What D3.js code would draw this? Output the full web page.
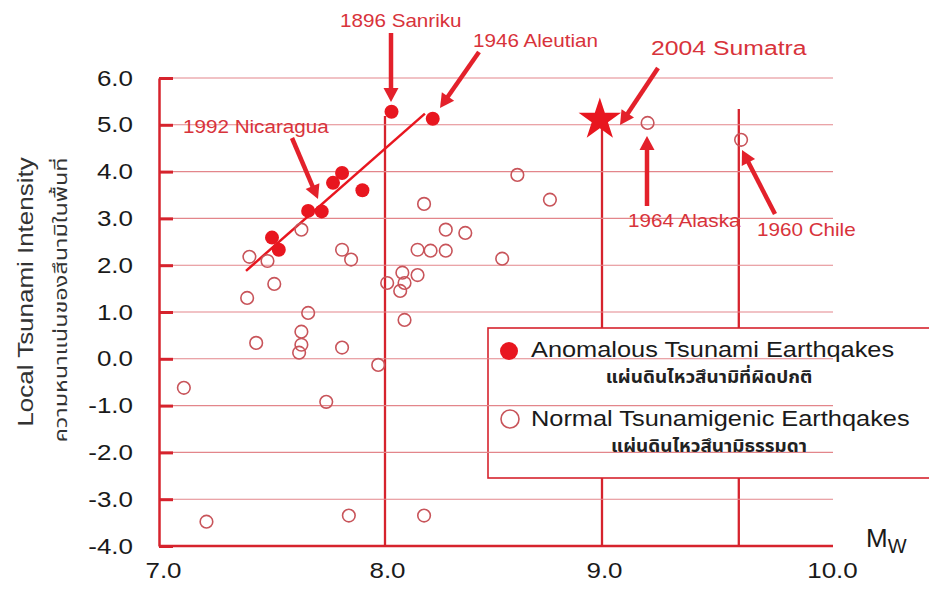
<!DOCTYPE html>
<html>
<head>
<meta charset="utf-8">
<script src="https://cdn.jsdelivr.net/npm/d3@7"></script>
<style>
  html, body { margin: 0; padding: 0; background: #fff; }
  svg { display: block; }
  text { font-family: "Liberation Sans", Arial, Helvetica, sans-serif; }
  .thai { font-family: "Noto Sans Thai", "Noto Sans Thai UI", "Noto Sans", "DejaVu Sans", sans-serif; }
</style>
</head>
<body>
<svg id="chart" width="929" height="590"></svg>
<script>
// ---------------- data ----------------
const xTickValues = [7.0, 8.0, 9.0, 10.0];
const yTickValues = [6, 5, 4, 3, 2, 1, 0, -1, -2, -3, -4];

// Anomalous tsunami earthquakes (filled)
const anomalousMw = [7.50, 7.53, 7.66, 7.72, 7.77, 7.81, 7.90, 8.03, 8.22];
const anomalousIt = [2.59, 2.33, 3.16, 3.15, 3.76, 3.97, 3.60, 5.28, 5.13];

// Normal tsunamigenic earthquakes (open)
const normalMw = [7.11, 7.21, 7.40, 7.48, 7.51, 7.39, 7.43, 7.63, 7.66, 7.63, 7.63, 7.62,
                  7.81, 7.85, 7.81, 7.74, 7.84, 7.97, 8.01, 8.07, 8.09, 8.08, 8.15, 8.09,
                  8.15, 8.21, 8.28, 8.18, 8.28, 8.37, 8.54, 8.61, 8.76, 8.18, 9.20, 9.61];
const normalIt = [-0.62, -3.48, 2.18, 2.09, 1.60, 1.30, 0.34, 2.76, 0.98, 0.58, 0.30, 0.13,
                  2.33, 2.12, 0.24, -0.92, -3.35, -0.13, 1.62, 1.45, 1.62, 1.84, 1.79, 0.83,
                  2.33, 2.31, 2.31, 3.31, 2.76, 2.69, 2.14, 3.93, 3.40, -3.35, 5.04, 4.68];

// 2004 Sumatra (star)
const sumatraMw = 8.99, sumatraIt = 5.13;

// Trend line through anomalous events
const trendMw = [7.385, 8.184];
const trendIt = [1.88, 5.24];

// Vertical reference lines (Mw, top intensity)
const refMw = [8.0, 9.0, 9.6];
const refTop = [5.19, 5.13, 5.34];

// Annotation labels
const annLabels = ["1896 Sanriku", "1946 Aleutian", "2004 Sumatra", "1964 Alaska", "1960 Chile", "1992 Nicaragua"];

// Legend
const legendLabels = ["Anomalous Tsunami Earthqakes", "Normal Tsunamigenic Earthqakes"];
const legendThai = ["แผ่นดินไหวสึนามิที่ผิดปกติ", "แผ่นดินไหวสึนามิธรรมดา"];

const yTitle = "Local Tsunami Intensity";
const yTitleThai = "ความหนาแน่นของสึนามิในพื้นที่";

// ---------------- layout / style ----------------
const SX = 1.18; // horizontal glyph stretch seen in the reference
const RED_AXIS = "#d6232d";
const RED_GRID = "#e3868b";
const RED_FILL = "#e8161f";
const RED_OPEN = "#c8545a";
const RED_TEXT = "#d8333b";
const RED_ARROW = "#e3212b";
const fmt = d => d.toFixed(1);

// annotation layout: text start/baseline, arrow from -> tip (px)
const annLayout = [
  {tx: 340, ty: 27, fs: 17.5, x1: 391, y1: 33, x2: 391, y2: 102},
  {tx: 473, ty: 47, fs: 17.5, x1: 479, y1: 52, x2: 440, y2: 108},
  {tx: 651, ty: 55, fs: 21,   x1: 658, y1: 68, x2: 620, y2: 125},
  {tx: 628, ty: 227, fs: 17.5, x1: 647, y1: 206, x2: 647, y2: 136},
  {tx: 757, ty: 236, fs: 17.5, x1: 775, y1: 214, x2: 742, y2: 150},
  {tx: 183, ty: 133, fs: 17.5, x1: 292, y1: 138, x2: 318, y2: 199}
];

const svg = d3.select("#chart");

const x = d3.scaleLinear().domain([7, 8, 9, 10]).range([159, 385, 602, 830]);
const y = d3.scaleLinear().domain([-4, 6]).range([546, 78]);

const gridRight = 833;

// vertical reference lines
svg.append("g").selectAll("line").data(refMw).join("line")
  .attr("x1", d => x(d)).attr("x2", d => x(d))
  .attr("y1", (d, i) => y(refTop[i])).attr("y2", y(-4))
  .attr("stroke", RED_AXIS).attr("stroke-width", 2.3);

// legend box (white, hides the vertical lines)
svg.append("rect")
  .attr("x", 488).attr("y", 328).attr("width", 460).attr("height", 150)
  .attr("fill", "#fff").attr("stroke", RED_AXIS).attr("stroke-width", 1.6);

// horizontal grid
svg.append("g").selectAll("line").data(yTickValues.filter(v => v > -4)).join("line")
  .attr("x1", x(7)).attr("x2", gridRight)
  .attr("y1", d => y(d)).attr("y2", d => y(d))
  .attr("stroke", RED_GRID).attr("stroke-width", 1.1);

// left axis
const yAxis = svg.append("g").attr("transform", `translate(${x(7)},0)`)
  .call(d3.axisLeft(y).tickValues(yTickValues).tickFormat(fmt)
    .tickSizeInner(-14).tickSizeOuter(0).tickPadding(26));
yAxis.select(".domain").attr("stroke", RED_AXIS).attr("stroke-width", 2.5);
yAxis.selectAll(".tick line").attr("stroke", RED_AXIS).attr("stroke-width", 3);
yAxis.selectAll(".tick text")
  .attr("x", -26 / SX).attr("transform", `scale(${SX},1)`)
  .attr("font-size", 22).attr("fill", "#1a1a1a")
  .attr("font-family", "'Liberation Sans', Arial, sans-serif");

// bottom axis
const xAxis = svg.append("g").attr("transform", `translate(0,${y(-4)})`)
  .call(d3.axisBottom(x).tickValues(xTickValues).tickFormat(fmt)
    .tickSize(0).tickPadding(16));
xAxis.select(".domain").attr("stroke", RED_AXIS).attr("stroke-width", 2.5)
  .attr("d", `M${x(7)},0H${gridRight}`);
xAxis.selectAll(".tick text")
  .attr("transform", `scale(${SX},1)`)
  .attr("x", (d, i) => (i === 0 ? 4 : 2) / SX)
  .attr("font-size", 22).attr("fill", "#1a1a1a")
  .attr("font-family", "'Liberation Sans', Arial, sans-serif");

// Mw label
const mw = svg.append("text").attr("x", 866).attr("y", 547).attr("fill", "#1a1a1a");
mw.append("tspan").attr("font-size", 26).text("M");
mw.append("tspan").attr("font-size", 20).attr("dy", 6).text("W");

// Y title
svg.append("text")
  .attr("transform", `translate(33,292) rotate(-90) scale(${SX},1)`)
  .attr("text-anchor", "middle").attr("font-size", 22).attr("fill", "#333")
  .text(yTitle);
svg.append("text").attr("class", "thai")
  .attr("transform", `translate(67,300) rotate(-90) scale(1.3,1)`)
  .attr("text-anchor", "middle").attr("font-size", 18).attr("fill", "#333")
  .text(yTitleThai);

// trend line
svg.append("line")
  .attr("x1", x(trendMw[0])).attr("y1", y(trendIt[0]))
  .attr("x2", x(trendMw[1])).attr("y2", y(trendIt[1]))
  .attr("stroke", RED_FILL).attr("stroke-width", 2.5);

// normal (open) points
svg.append("g").selectAll("circle").data(normalMw).join("circle")
  .attr("cx", d => x(d)).attr("cy", (d, i) => y(normalIt[i]))
  .attr("r", 6.3).attr("fill", "none")
  .attr("stroke", RED_OPEN).attr("stroke-width", 1.6);

// anomalous (filled) points
svg.append("g").selectAll("circle").data(anomalousMw).join("circle")
  .attr("cx", d => x(d)).attr("cy", (d, i) => y(anomalousIt[i]))
  .attr("r", 7).attr("fill", RED_FILL);

// star
const star = d3.symbol().type(d3.symbolStar).size(560);
svg.append("path").attr("d", star())
  .attr("transform", `translate(${x(sumatraMw)},${y(sumatraIt) + 1})`)
  .attr("fill", RED_FILL);

// annotations
const ann = svg.append("g");
annLayout.forEach((a, i) => {
  ann.append("text")
    .attr("transform", `translate(${a.tx},${a.ty}) scale(${SX},1)`)
    .attr("font-size", a.fs).attr("fill", RED_TEXT)
    .text(annLabels[i]);
  const dx = a.x2 - a.x1, dy = a.y2 - a.y1;
  const len = Math.hypot(dx, dy);
  const ux = dx / len, uy = dy / len;
  const headL = 14, headW = 7.5;
  const bx = a.x2 - ux * headL, by = a.y2 - uy * headL;
  ann.append("line")
    .attr("x1", a.x1).attr("y1", a.y1).attr("x2", bx + ux * 1).attr("y2", by + uy * 1)
    .attr("stroke", RED_ARROW).attr("stroke-width", 4.5);
  ann.append("path")
    .attr("d", `M${a.x2},${a.y2}L${bx - uy * headW},${by + ux * headW}L${bx + uy * headW},${by - ux * headW}Z`)
    .attr("fill", RED_ARROW);
});

// legend content
const lg = svg.append("g");
lg.append("circle").attr("cx", 509).attr("cy", 351).attr("r", 9).attr("fill", RED_FILL);
lg.append("circle").attr("cx", 510).attr("cy", 419).attr("r", 9)
  .attr("fill", "none").attr("stroke", RED_OPEN).attr("stroke-width", 1.6);
[357, 426].forEach((yy, i) => {
  lg.append("text")
    .attr("transform", `translate(531,${yy}) scale(${SX},1)`)
    .attr("font-size", 21.5).attr("fill", "#1a1a1a")
    .text(legendLabels[i]);
});
[383, 452].forEach((yy, i) => {
  lg.append("text").attr("class", "thai")
    .attr("transform", `translate(709,${yy}) scale(1.08,1)`)
    .attr("text-anchor", "middle")
    .attr("font-size", 17.5).attr("font-weight", "bold").attr("fill", "#222")
    .text(legendThai[i]);
});
</script>
</body>
</html>
